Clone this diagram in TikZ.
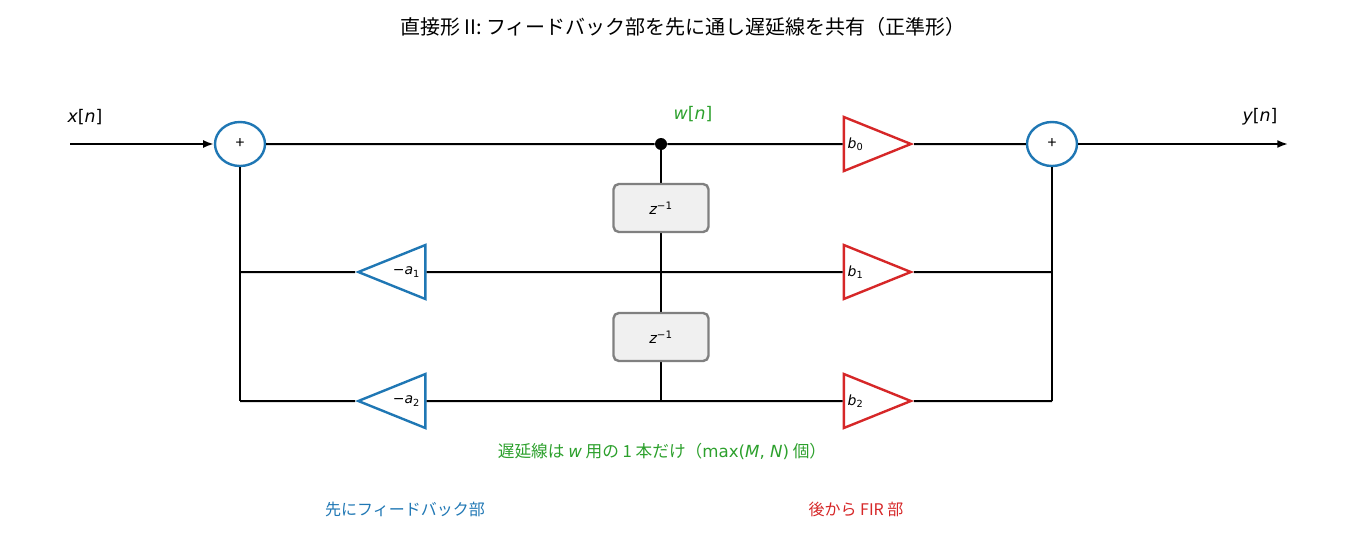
\documentclass[tikz,border=0pt]{standalone}
\usepackage{fontspec}
\setmainfont{Noto Sans CJK JP}
\newfontfamily\mifont{DejaVu Sans}[ItalicFont={DejaVu Sans Oblique}]
\newcommand{\mi}[1]{{\mifont\itshape #1}}
\newcommand{\mr}[1]{{\mifont #1}}
\usetikzlibrary{shapes.geometric,arrows.meta}
\definecolor{cb}{HTML}{1F77B4}
\definecolor{cr}{HTML}{D62728}
\definecolor{cg}{HTML}{2CA02C}
\begin{document}
\begin{tikzpicture}[x=0.75pt,y=-0.75pt,
 wire/.style={line width=1.5pt,black},
 arr/.style={wire,-{Latex[length=8pt,width=6pt]}},
 sum/.style={ellipse,draw=cb,line width=1.8pt,fill=white,minimum width=50*0.75pt,minimum height=44*0.75pt,inner sep=0pt,font=\fontsize{12}{12}\selectfont},
 gain/.style={isosceles triangle,isosceles triangle stretches,draw=#1,line width=1.8pt,fill=white,minimum height=67*0.75pt,minimum width=54*0.75pt,inner sep=0pt,font=\fontsize{10.5}{11}\selectfont},
 dly/.style={draw=gray,line width=1.8pt,fill=black!6,rounded corners=4pt,minimum width=95*0.75pt,minimum height=48*0.75pt,font=\fontsize{11}{11}\selectfont},
 lbl/.style={font=\fontsize{13}{13}\selectfont}]
\useasboundingbox (0,0) rectangle (1367,557);
\node[font=\fontsize{15}{15}\selectfont] (title) at (683,27) {直接形 II: フィードバック部を先に通し遅延線を共有（正準形）};
\coordinate (in) at (70,144);
\coordinate (out) at (1288,144);
\node[lbl] (xl) at (85,117) {\mi{x}\mr{[}\mi{n}\mr{]}};
\node[lbl] (yl) at (1260,117) {\mi{y}\mr{[}\mi{n}\mr{]}};
\node[lbl,text=cg] (wl) at (693,114) {\mi{w}\mr{[}\mi{n}\mr{]}};
\node[sum] (s1) at (240,144) {+};
\node[sum] (s2) at (1052,144) {+};
\node[circle,fill=black,inner sep=0pt,minimum size=9pt] (w) at (661,144) {};
\coordinate (w1) at (661,272);
\coordinate (w2) at (661,401);
\coordinate (l1) at (240,272);
\coordinate (l2) at (240,401);
\coordinate (r1) at (1052,272);
\coordinate (r2) at (1052,401);
\node[gain=cr] (b0) at (859.5,144) {\hspace*{-6pt}\mi{b}\textsubscript{\mr{0}}};
\node[gain=cr] (b1) at (859.5,272) {\hspace*{-6pt}\mi{b}\textsubscript{\mr{1}}};
\node[gain=cr] (b2) at (859.5,401) {\hspace*{-6pt}\mi{b}\textsubscript{\mr{2}}};
\node[gain=cb,shape border rotate=180] (a1) at (402.5,272) {\hspace*{6pt}\mr{−}\mi{a}\textsubscript{\mr{1}}};
\node[gain=cb,shape border rotate=180] (a2) at (402.5,401) {\hspace*{6pt}\mr{−}\mi{a}\textsubscript{\mr{2}}};
% wires
\draw[arr] (in) -- (s1);
\draw[wire] (s1) -- (w) -- (b0) -- (s2);
\draw[arr] (s2) -- (out);
\draw[wire] (w) -- (w2);
\draw[wire] (l1) -- (a1) -- (w1) -- (b1) -- (r1);
\draw[wire] (l2) -- (a2) -- (w2) -- (b2) -- (r2);
\draw[wire] (s1) -- (l2);
\draw[wire] (s2) -- (r2);
\node[dly] (z1) at (661,208) {\mi{z}\textsuperscript{\mr{−1}}};
\node[dly] (z2) at (661,337) {\mi{z}\textsuperscript{\mr{−1}}};
\node[lbl,text=cg,font=\fontsize{12.5}{13}\selectfont] (note) at (662,451) {遅延線は \mi{w} 用の 1 本だけ（\mr{max(}\mi{M}\mr{, }\mi{N}\mr{)} 個）};
\node[text=cb,font=\fontsize{12}{12}\selectfont] (fb) at (405,509) {先にフィードバック部};
\node[text=cr,font=\fontsize{12}{12}\selectfont] (fir) at (856,509) {後から FIR 部};
\end{tikzpicture}
\end{document}
